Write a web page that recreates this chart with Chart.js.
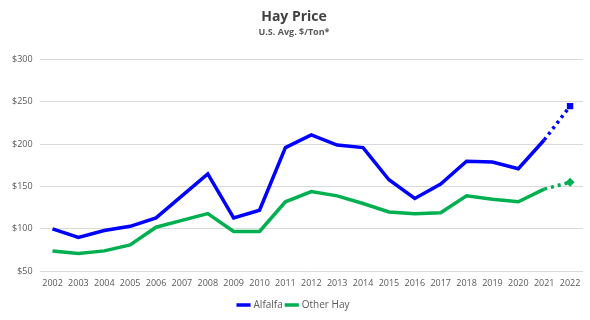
<!DOCTYPE html>
<html>
<head>
<meta charset="utf-8">
<script src="https://cdn.jsdelivr.net/npm/chart.js@4/dist/chart.umd.min.js"></script>
<style>
html,body{margin:0;padding:0;background:#fff;}
#wrap{width:590px;height:320px;position:relative;}
</style>
</head>
<body>
<div id="wrap"><canvas id="c" width="590" height="320"></canvas></div>
<script>
const years = ["2002","2003","2004","2005","2006","2007","2008","2009","2010","2011","2012","2013","2014","2015","2016","2017","2018","2019","2020","2021","2022"];
const alfalfa = [100, 90, 98, 103, 113, 139, 165, 113, 122, 196, 211, 199, 196, 158, 136, 153, 180, 179, 171, 205, 245];
const otherHay = [74, 71, 74, 81, 102, 110, 118, 97, 97, 132, 144, 139, 130, 120, 118, 119, 139, 135, 132, 147, 155];
const yTicks = [50, 100, 150, 200, 250, 300];

const lastIdx = years.length - 1;
const dashLast = ctx => ctx.p1DataIndex === lastIdx ? [3, 4] : undefined;
const radiusLast = years.map((_, i) => i === lastIdx ? 4.5 : 0);

new Chart(document.getElementById('c'), {
  type: 'line',
  data: {
    labels: years,
    datasets: [
      {
        label: 'Alfalfa',
        data: alfalfa,
        borderColor: '#0000FF',
        backgroundColor: '#0000FF',
        borderWidth: 3.5,
        pointRadius: radiusLast,
        pointStyle: 'rect',
        pointBorderWidth: 0,
        tension: 0,
        segment: { borderDash: dashLast }
      },
      {
        label: 'Other Hay',
        data: otherHay,
        borderColor: '#00B050',
        backgroundColor: '#00B050',
        borderWidth: 3.5,
        pointRadius: radiusLast,
        pointStyle: 'rectRot',
        pointBorderWidth: 0,
        tension: 0,
        segment: { borderDash: dashLast }
      }
    ]
  },
  options: {
    responsive: false,
    animation: false,
    layout: { padding: { left: 5, right: 7, top: 5, bottom: 0 } },
    plugins: {
      title: {
        display: true,
        text: 'Hay Price',
        color: '#404040',
        font: { family: 'Open Sans', size: 14, weight: 'bold' },
        padding: { top: 4, bottom: 0 }
      },
      subtitle: {
        display: true,
        text: 'U.S. Avg. $/Ton*',
        color: '#595959',
        font: { family: 'Open Sans', size: 9, weight: 'bold' },
        padding: { top: 1, bottom: 22 }
      },
      legend: {
        position: 'bottom',
        labels: {
          usePointStyle: true,
          pointStyle: 'line',
          color: '#595959',
          font: { family: 'Open Sans', size: 10 },
          boxWidth: 20,
          padding: 4,
          generateLabels: chart => chart.data.datasets.map((ds, i) => ({
            text: ds.label,
            strokeStyle: ds.borderColor,
            fillStyle: ds.borderColor,
            lineWidth: 3.5,
            pointStyle: 'line',
            fontColor: '#595959',
            datasetIndex: i,
            hidden: false
          }))
        }
      },
      tooltip: { enabled: false }
    },
    scales: {
      x: {
        offset: true,
        grid: { display: false, drawTicks: false },
        border: { display: false },
        ticks: {
          color: '#595959',
          font: { family: 'Open Sans', size: 9 },
          maxRotation: 0,
          autoSkip: false,
          padding: 7
        }
      },
      y: {
        min: 50,
        max: 300,
        grid: { color: '#D9D9D9', lineWidth: 1, drawTicks: false },
        border: { display: false },
        afterBuildTicks: axis => { axis.ticks = yTicks.map(v => ({ value: v })); },
        ticks: {
          color: '#595959',
          font: { family: 'Open Sans', size: 9 },
          padding: 7,
          callback: v => '$' + v
        }
      }
    }
  }
});
</script>
</body>
</html>
